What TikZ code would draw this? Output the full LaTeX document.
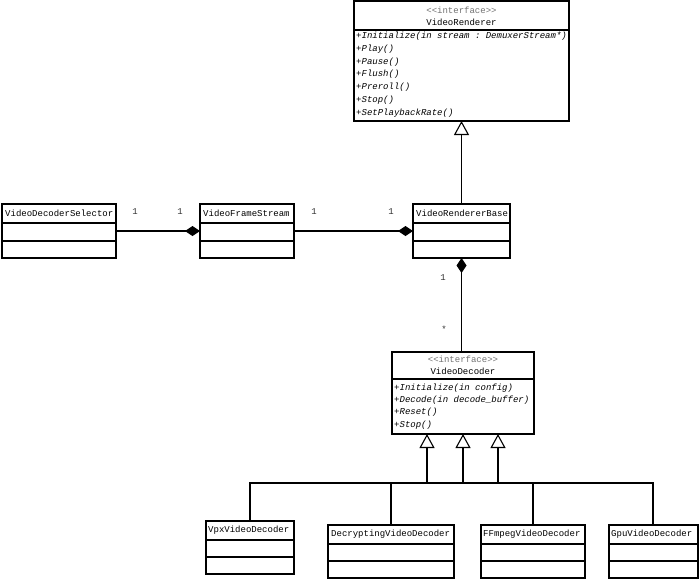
\documentclass[tikz,border=0pt]{standalone}
\usepackage{fontspec}
\setmonofont{Liberation Mono}
\usetikzlibrary{arrows.meta}
\begin{document}
\begin{tikzpicture}[x=1pt,y=-1pt,
  cls/.style={draw=black,line width=1.1pt,fill=white,inner sep=0pt,outer sep=0pt,anchor=north west},
  txt/.style={font=\ttfamily\fontsize{9}{10}\selectfont,inner sep=0pt,text=black},
  meth/.style={txt,font=\ttfamily\itshape\fontsize{9}{10}\selectfont,anchor=west},
  stereo/.style={txt,text=black!55},
  lbl/.style={txt,text=black!80},
  sep/.style={line width=1.1pt},
  conn/.style={line width=1.1pt},
  inh/.style={conn,-{Triangle[open,length=14pt,width=15pt,fill=white]}},
  comp/.style={conn,-{Diamond[length=15pt,width=10pt,fill=black]}}
]
\useasboundingbox (0,0) rectangle (699,579);

% VideoRenderer
\node[cls,minimum width=215pt,minimum height=120pt] (vr) at (354,1) {};
\draw[sep] (354,30) -- (569,30);
\node[stereo] (vrs) at (461.5,10) {<<interface>>};
\node[txt] (vrn) at (461.5,22) {VideoRenderer};
\node[meth] (vrm1) at (356,36) {+Initialize(in stream : DemuxerStream*)};
\node[meth] (vrm2) at (356,49) {+Play()};
\node[meth] (vrm3) at (356,62) {+Pause()};
\node[meth] (vrm4) at (356,74) {+Flush()};
\node[meth] (vrm5) at (356,87) {+Preroll()};
\node[meth] (vrm6) at (356,100) {+Stop()};
\node[meth] (vrm7) at (356,113) {+SetPlaybackRate()};

% Row 2
\node[cls,minimum width=114pt,minimum height=54pt] (vds) at (2,204) {};
\draw[sep] (2,223) -- (116,223); \draw[sep] (2,241) -- (116,241);
\node[txt,anchor=west] (vdsn) at (5,213) {VideoDecoderSelector};

\node[cls,minimum width=94pt,minimum height=54pt] (vfs) at (200,204) {};
\draw[sep] (200,223) -- (294,223); \draw[sep] (200,241) -- (294,241);
\node[txt,anchor=west] (vfsn) at (203,213) {VideoFrameStream};

\node[cls,minimum width=97pt,minimum height=54pt] (vrb) at (413,204) {};
\draw[sep] (413,223) -- (510,223); \draw[sep] (413,241) -- (510,241);
\node[txt,anchor=west] (vrbn) at (416,213) {VideoRendererBase};

% VideoDecoder
\node[cls,minimum width=142pt,minimum height=82pt] (vd) at (392,352) {};
\draw[sep] (392,379) -- (534,379);
\node[stereo] (vdst) at (463,359) {<<interface>>};
\node[txt] (vdn) at (463,371) {VideoDecoder};
\node[meth] (vdm1) at (394,388) {+Initialize(in config)};
\node[meth] (vdm2) at (394,400) {+Decode(in decode\_buffer)};
\node[meth] (vdm3) at (394,412) {+Reset()};
\node[meth] (vdm4) at (394,425) {+Stop()};

% Children
\node[cls,minimum width=88pt,minimum height=53pt] (vpx) at (206,521) {};
\draw[sep] (206,540) -- (294,540); \draw[sep] (206,557) -- (294,557);
\node[txt,anchor=west] (vpxn) at (208,530) {VpxVideoDecoder};

\node[cls,minimum width=126pt,minimum height=53pt] (dec) at (328,525) {};
\draw[sep] (328,544) -- (454,544); \draw[sep] (328,561) -- (454,561);
\node[txt,anchor=west] (decn) at (331,534) {DecryptingVideoDecoder};

\node[cls,minimum width=104pt,minimum height=53pt] (ffm) at (481,525) {};
\draw[sep] (481,544) -- (585,544); \draw[sep] (481,561) -- (585,561);
\node[txt,anchor=west] (ffmn) at (483,534) {FFmpegVideoDecoder};

\node[cls,minimum width=89pt,minimum height=53pt] (gpu) at (609,525) {};
\draw[sep] (609,544) -- (698,544); \draw[sep] (609,561) -- (698,561);
\node[txt,anchor=west] (gpun) at (611,534) {GpuVideoDecoder};

% Connectors
\draw[comp] (vds.east) -- (vfs.west);
\draw[comp] (vfs.east) -- (vrb.west);
\draw[inh] (vrb.north) -- (vrb.north |- vr.south);
\draw[comp] (vd.north -| vrb.south) -- (vrb.south);

\coordinate (b1) at (427,483);
\coordinate (b2) at (463,483);
\coordinate (b3) at (498,483);
\draw[inh] (vpx.north -| 250,0) -- (250,483) -- (b1) -- (b1 |- vd.south);
\draw[inh] (dec.north -| 391,0) -- (391,483) -- (b2) -- (b2 |- vd.south);
\draw[inh] (ffm.north -| 533,0) -- (533,483) -- (b3) -- (b3 |- vd.south);
\draw[conn] (gpu.north -| 653,0) -- (653,483) -- (b3) -- (b2);

% Multiplicities
\node[lbl] (m1) at (135,212) {1};
\node[lbl] (m2) at (180,212) {1};
\node[lbl] (m3) at (314,212) {1};
\node[lbl] (m4) at (391,212) {1};
\node[lbl] (m5) at (443,278) {1};
\node[lbl] (m6) at (444,329) {*};
\end{tikzpicture}
\end{document}
